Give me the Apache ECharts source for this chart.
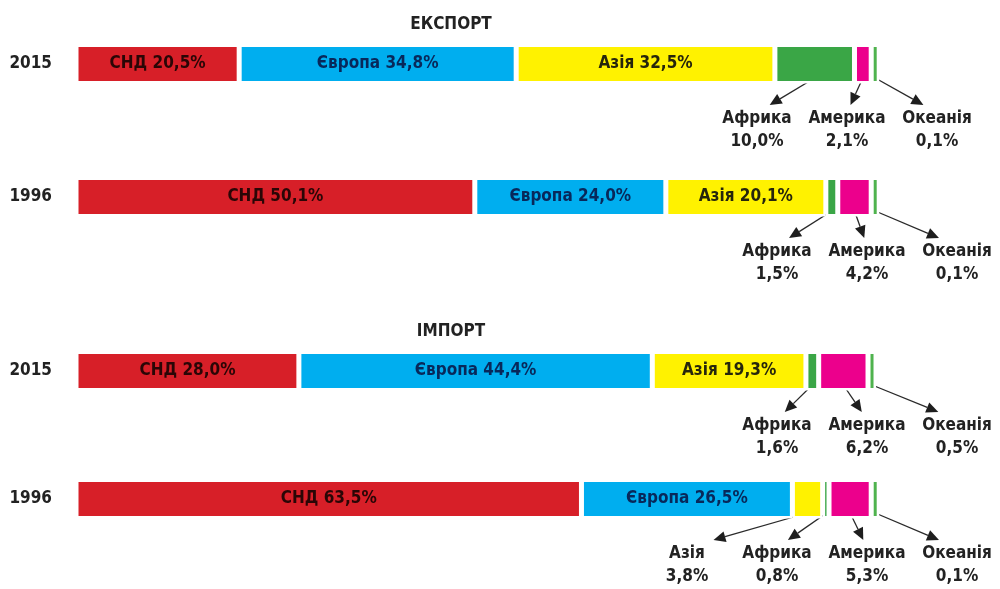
<!DOCTYPE html>
<html>
<head>
<meta charset="utf-8">
<script src="https://cdn.jsdelivr.net/npm/echarts@6/dist/echarts.min.js"></script>
<style>
  html, body { margin: 0; padding: 0; background: #ffffff; }
  #chart { width: 1000px; height: 589px; }
</style>
</head>
<body>
<div id="chart"></div>
<script>
// Geographic structure of trade, % of total
const regions = ['СНД', 'Європа', 'Азія', 'Африка', 'Америка', 'Океанія'];
const years = ['2015', '1996'];
const panelTitles = ['ЕКСПОРТ', 'ІМПОРТ'];

const export2015 = [20.5, 34.8, 32.5, 10.0, 2.1, 0.1];
const export1996 = [50.1, 24.0, 20.1, 1.5, 4.2, 0.1];
const import2015 = [28.0, 44.4, 19.3, 1.6, 6.2, 0.5];
const import1996 = [63.5, 26.5, 3.8, 0.8, 5.3, 0.1];

const panels = [[export2015, export1996], [import2015, import1996]];

const colors = ['#d71f28', '#00aeef', '#fff200', '#3aa646', '#ec008c', '#4fb34e'];
const insideTextColors = ['#2a0606', '#08285a', '#26260c', '#111', '#111', '#111'];
const FONT = '"DejaVu Sans Condensed", "Liberation Sans Narrow", "Noto Sans", sans-serif';
const FS = 17;
const INSIDE_MIN = 15; // shares below this get a callout under the bar

const fmt = v => v.toFixed(1).replace('.', ',') + '%';

const chart = echarts.init(document.getElementById('chart'), null, { renderer: 'canvas' });

const grids = [
  { left: 76, width: 796, top: 64, height: 133 },
  { left: 76, width: 796, top: 371, height: 128 }
];

const xAxes = grids.map((g, i) => ({
  type: 'value', gridIndex: i, min: 0, max: 100, show: false
}));
const yAxes = grids.map((g, i) => ({
  type: 'category', gridIndex: i, data: years, inverse: true, boundaryGap: false,
  axisLine: { show: false }, axisTick: { show: false }, splitLine: { show: false },
  axisLabel: { margin: 24, fontFamily: FONT, fontWeight: 'bold', fontSize: FS, color: '#222' }
}));

// White segment borders leave a small gap between neighbouring shares
const series = [];
panels.forEach((rows, p) => {
  regions.forEach((name, r) => {
    series.push({
      type: 'bar',
      name: name,
      xAxisIndex: p,
      yAxisIndex: p,
      stack: 'panel' + p,
      barWidth: 39,
      barMinHeight: r === regions.length - 1 ? 8 : 0,
      clip: false,
      data: rows.map(row => row[r]),
      itemStyle: { color: colors[r], borderColor: '#ffffff', borderWidth: 2.5 },
      label: {
        show: true,
        position: 'inside',
        fontFamily: FONT,
        fontWeight: 'bold',
        fontSize: FS,
        color: insideTextColors[r],
        formatter: prm => prm.value >= INSIDE_MIN ? name + ' ' + fmt(prm.value) : ''
      },
      silent: true,
      animation: false
    });
  });
});

chart.setOption({
  animation: false,
  grid: grids,
  xAxis: xAxes,
  yAxis: yAxes,
  series: series
});

const graphics = [];

// Panel titles above each pair of bars
panels.forEach((rows, p) => {
  const top = chart.convertToPixel({ gridIndex: p }, [0, years[0]]);
  graphics.push({
    type: 'text', silent: true,
    style: {
      text: panelTitles[p], x: 451, y: top[1] - 39,
      textAlign: 'center', textVerticalAlign: 'middle',
      font: 'bold ' + FS + 'px ' + FONT, fill: '#222'
    }
  });
});

// Callouts with arrows for the narrow segments
const calloutRight = [937, 957, 957, 957];
const calloutStep = 90;
let rowIndex = 0;
panels.forEach((rows, p) => {
  rows.forEach((row, i) => {
    const small = [];
    let cum = 0;
    row.forEach((v, r) => {
      if (v < INSIDE_MIN) small.push({ r, v, start: cum });
      cum += v;
    });
    const right = calloutRight[rowIndex];
    small.forEach((s, k) => {
      const slot = small.length - 1 - k;
      const labelX = right - slot * calloutStep;
      const a = chart.convertToPixel({ gridIndex: p }, [s.start, years[i]]);
      const b = chart.convertToPixel({ gridIndex: p }, [s.start + s.v, years[i]]);
      const cy = a[1];
      let sx = (a[0] + b[0]) / 2;
      if (b[0] - a[0] < 8) sx = a[0] + 4;
      const sy = cy + 14;
      const tx = labelX + 0.22 * (sx - labelX);
      const ty = cy + 41;
      const dx = tx - sx, dy = ty - sy;
      const len = Math.sqrt(dx * dx + dy * dy);
      const ux = dx / len, uy = dy / len;
      const head = 12, half = 5.5;
      const bx = tx - ux * head, by = ty - uy * head;
      graphics.push({
        type: 'line', silent: true,
        shape: { x1: sx, y1: sy, x2: bx, y2: by },
        style: { stroke: '#2a2a2a', lineWidth: 1.3 }
      });
      graphics.push({
        type: 'polygon', silent: true,
        shape: { points: [[tx, ty], [bx - uy * half, by + ux * half], [bx + uy * half, by - ux * half]] },
        style: { fill: '#1e1e1e' }
      });
      graphics.push({
        type: 'text', silent: true,
        style: {
          text: regions[s.r] + '\n' + fmt(s.v),
          x: labelX, y: cy + 43,
          textAlign: 'center', textVerticalAlign: 'top',
          font: 'bold ' + FS + 'px ' + FONT, lineHeight: 23, fill: '#222'
        }
      });
    });
    rowIndex++;
  });
});
chart.setOption({ graphic: graphics });
</script>
</body>
</html>
